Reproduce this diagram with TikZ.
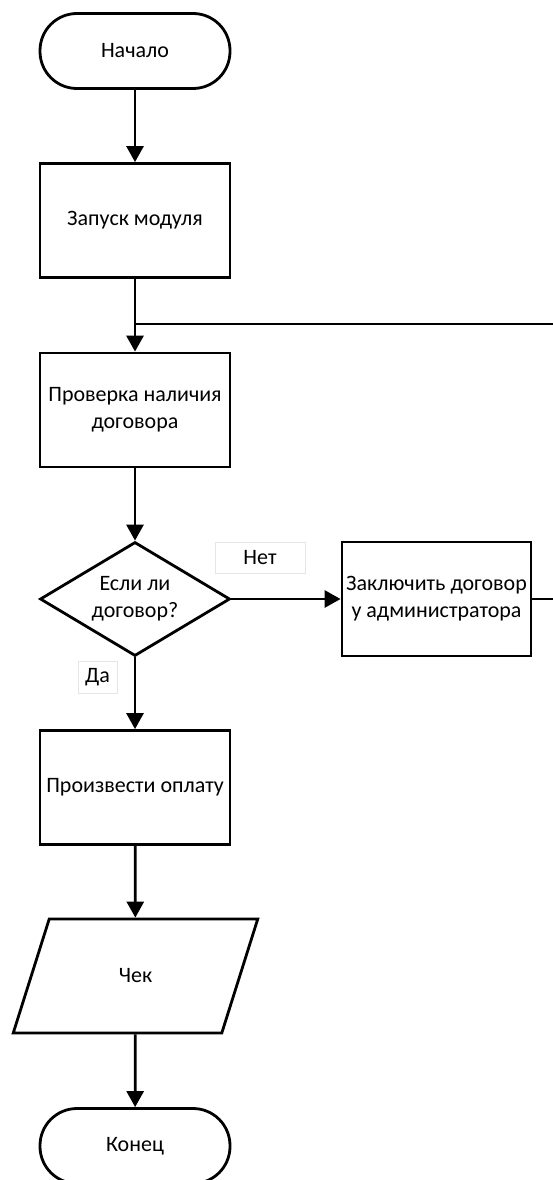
\documentclass[tikz,border=0pt]{standalone}
\usepackage{fontspec}
\setmainfont{Carlito}
\usetikzlibrary{arrows.meta,shapes.geometric}
\begin{document}
\begin{tikzpicture}[x=1pt,y=-1pt,
  every node/.style={font=\fontsize{22}{27}\selectfont, align=center},
  base/.style={draw=black, line width=2.8pt, fill=white, inner sep=0pt},
  term/.style={base, rectangle, rounded corners=37pt, minimum width=190pt, minimum height=75pt},
  proc/.style={base, rectangle, minimum width=190pt, minimum height=114pt},
  decision/.style={base, diamond, aspect=1.67, minimum width=190pt, minimum height=114pt},
  io/.style={base, trapezium, trapezium left angle=64, trapezium right angle=116,
             trapezium stretches=true, minimum width=245pt, minimum height=114pt},
  tag/.style={draw=blue!8!gray!18, line width=0.8pt, fill=white, inner sep=0pt},
  flow/.style={line width=2.8pt, -{Triangle[length=16pt,width=17pt]}},
  wire/.style={line width=2.8pt}]
\useasboundingbox (0,0) rectangle (552,1180);

% main column
\node[term]     (start) at (135,51)    {Начало};
\node[proc]     (launch) at (135,220.5) {Запуск модуля};
\node[proc]     (check) at (135,410)   {Проверка наличия\\договора};
\node[decision] (ask)   at (135,599)   {Если ли\\договор?};
\node[proc]     (pay)   at (135,787.5) {Произвести оплату};
\node[io]       (bill)  at (135.5,976) {Чек};
\node[term]     (stop)  at (135,1146)  {Конец};

% branch to the right
\node[proc, minimum width=189pt] (sign) at (436.5,599) {Заключить договор\\у администратора};

% answer tags
\node[tag, minimum width=90pt, minimum height=31pt] (no)  at (260,558) {Нет};
\node[tag, minimum width=39pt, minimum height=32pt] (yes) at (97.5,677) {Да};

\coordinate (join) at (135,324);

% connectors
\draw[flow] (start) -- (launch);
\draw[flow] (launch) -- (check);
\draw[flow] (check) -- (ask);
\draw[flow] (ask) -- (pay);
\draw[flow] (ask.east) -- (sign.west);
\draw[flow] (pay) -- (bill);
\draw[flow] (bill) -- (stop);
\draw[wire] (sign.east) -- (560,599) |- (join);
\end{tikzpicture}
\end{document}
